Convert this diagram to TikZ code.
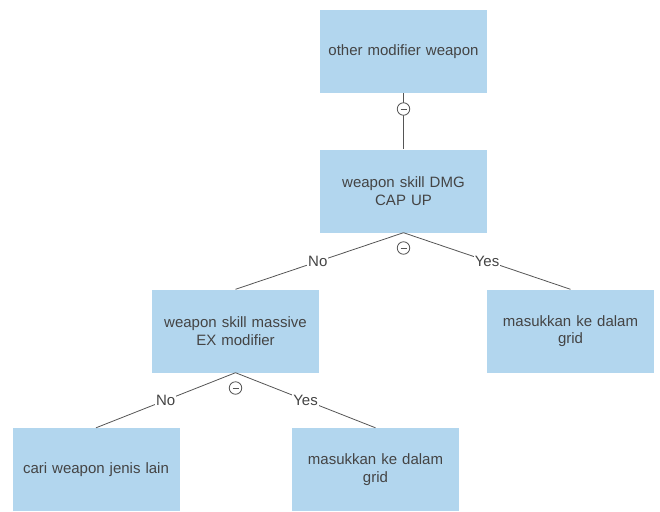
\documentclass[tikz,border=0pt]{standalone}
\usepackage{fontspec}
\setmainfont{Liberation Sans}
\definecolor{boxblue}{HTML}{B2D6EE}
\definecolor{txtgray}{HTML}{444444}
\definecolor{linegray}{HTML}{555555}
\begin{document}
\begin{tikzpicture}[x=1pt,y=-1pt,
  box/.style={fill=boxblue,draw=none,minimum width=167pt,minimum height=83pt,text width=158pt,align=center,font=\fontsize{15}{17.5}\selectfont,text=txtgray,inner sep=0pt},
  conn/.style={draw=linegray,line width=0.8pt},
  lbl/.style={fill=white,inner sep=1pt,font=\fontsize{15}{17}\selectfont,text=txtgray},
  toggle/.style={circle,draw=linegray,fill=white,line width=0.8pt,minimum size=12.5pt,inner sep=0pt,
    path picture={\draw[linegray,line width=0.8pt] ([xshift=-3pt]path picture bounding box.center) -- ([xshift=3pt]path picture bounding box.center);}}]
\useasboundingbox (0,0) rectangle (660,511);
\node[box] (b1) at (403.5,51.5) {other modifier weapon};
\node[box] (b2) at (403.5,191) {weapon skill DMG\\CAP UP};
\node[box] (b3) at (235.5,331) {weapon skill massive\\EX modifier};
\node[box] (b4) at (570.5,331) {masukkan ke dalam\\grid};
\node[box] (b5) at (96,469.5) {cari weapon jenis lain};
\node[box] (b6) at (375.5,469.5) {masukkan ke dalam\\grid};
\draw[conn] (b1.south) -- (b2.north);
\node[toggle] (t1) at (403.5,109) {};
\draw[conn] (b2.south) -- node[lbl,pos=0.51] {No} (b3.north);
\draw[conn] (b2.south) -- node[lbl,pos=0.5] {Yes} (b4.north);
\node[toggle] (t2) at (403.5,248) {};
\draw[conn] (b3.south) -- node[lbl,pos=0.5] {No} (b5.north);
\draw[conn] (b3.south) -- node[lbl,pos=0.5] {Yes} (b6.north);
\node[toggle] (t3) at (235.5,388) {};
\end{tikzpicture}
\end{document}
